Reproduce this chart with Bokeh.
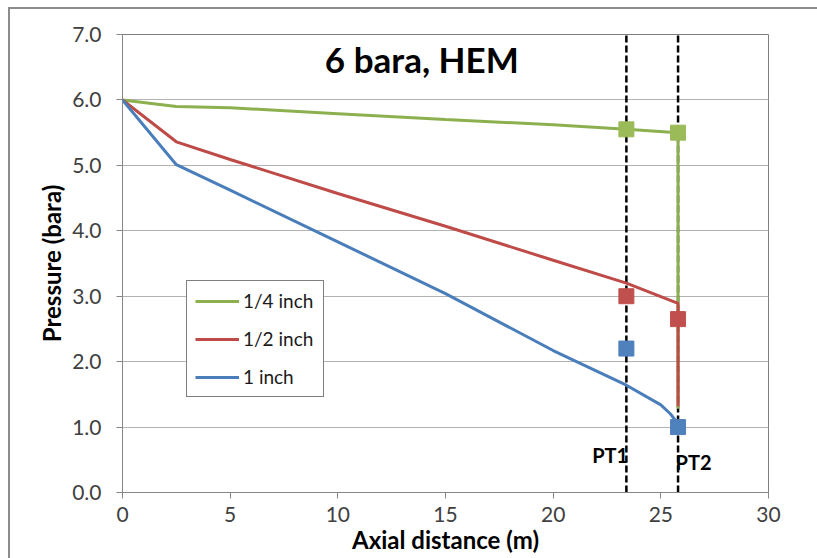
from bokeh.plotting import figure
from bokeh.models import (Label, Legend, LegendItem, NumeralTickFormatter,
                          FixedTicker, Range1d)
from bokeh.embed import file_html
from bokeh.resources import INLINE

# ---- data ----
x_quarter = [0, 2.5, 5, 10, 15, 20, 23.4, 25.8, 25.8]
p_quarter = [6.0, 5.90, 5.88, 5.79, 5.70, 5.62, 5.55, 5.50, 1.28]

x_half = [0, 2.5, 5, 10, 15, 20, 23.4, 25.8, 25.8]
p_half = [6.0, 5.36, 5.09, 4.57, 4.07, 3.55, 3.20, 2.89, 1.32]

x_one = [0, 2.5, 5, 10, 15, 20, 23.4, 25.0, 25.45, 25.8]
p_one = [6.0, 5.01, 4.62, 3.83, 3.04, 2.17, 1.64, 1.34, 1.20, 1.05]

pt_x = [23.4, 25.8]            # PT1, PT2 positions (m)
pt_labels = ["PT1", "PT2"]
meas_quarter = [5.55, 5.50]
meas_half = [3.00, 2.65]
meas_one = [2.20, 1.00]

series_names = ["1/4 inch", "1/2 inch", "1 inch"]
colors = ["#8DB04F", "#BE4B48", "#4A7EBB"]
marker_colors = ["#9BBB59", "#C0504D", "#4F81BD"]

x_ticks = [0, 5, 10, 15, 20, 25, 30]
y_ticks = [0, 1, 2, 3, 4, 5, 6, 7]
y_min, y_max = 0, 7

title_text = "6 bara, HEM"
x_label = "Axial distance (m)"
y_label = "Pressure (bara)"

FONT = "Lato"

p = figure(width=817, height=558, title=None,
           x_range=Range1d(0, 30), y_range=Range1d(y_min, y_max),
           output_backend="svg", toolbar_location=None,
           min_border_left=122, min_border_right=49,
           min_border_top=34, min_border_bottom=66)

p.border_fill_color = None
p.background_fill_color = "white"
p.styles = {
    "background": ("linear-gradient(#8c8c8c,#8c8c8c) 8px 7px / 2px 100% no-repeat, "
                   "linear-gradient(#8c8c8c,#8c8c8c) 8px 7px / 100% 2px no-repeat, white")
}
p.outline_line_color = "#7f7f7f"
p.outline_line_width = 1

# axes
for ax in (p.xaxis[0], p.yaxis[0]):
    ax.axis_line_color = "#868686"
    ax.major_tick_line_color = "#868686"
    ax.major_tick_out = 6
    ax.major_tick_in = 0
    ax.minor_tick_line_color = None
    ax.major_label_text_font = FONT
    ax.major_label_text_font_size = "21px"
    ax.major_label_text_color = "#404040"
    ax.axis_label_text_font = FONT
    ax.axis_label_text_font_size = "24px"
    ax.axis_label_text_font_style = "bold"
    ax.axis_label_text_color = "black"

p.xaxis.ticker = FixedTicker(ticks=x_ticks)
p.yaxis.ticker = FixedTicker(ticks=y_ticks)
p.yaxis.formatter = NumeralTickFormatter(format="0.0")
p.xaxis.axis_label = x_label
p.yaxis.axis_label = y_label
p.yaxis.major_label_standoff = 15
p.yaxis.axis_label_standoff = 3
p.xaxis.major_label_standoff = 8
p.xaxis.axis_label_standoff = 0

p.xgrid.visible = False
p.ygrid.grid_line_color = "#b3b3b3"
p.ygrid.grid_line_width = 1

# PT dashed lines (drawn first, beneath the series)
p.segment(x0=pt_x, y0=[y_min] * len(pt_x), x1=pt_x, y1=[y_max] * len(pt_x),
          line_color="black", line_width=2.5, line_dash="7 3")

# series lines
xs = [x_quarter, x_half, x_one]
ys = [p_quarter, p_half, p_one]
renderers = []
for xv, yv, c in zip(xs, ys, colors):
    r = p.line(xv, yv, line_color=c, line_width=3)
    renderers.append(r)

# measured points
for meas, c in zip([meas_quarter, meas_half, meas_one], marker_colors):
    p.scatter(pt_x, meas, marker="square", size=15, fill_color=c, line_color=c)

legend = Legend(items=[LegendItem(label=n, renderers=[r]) for n, r in zip(series_names, renderers)],
                location=(64, 95), margin=0, padding=8, spacing=15,
                glyph_width=44, glyph_height=20, label_height=20, label_standoff=4,
                label_width=72,
                label_text_font=FONT, label_text_font_size="19px",
                label_text_color="#1a1a1a",
                border_line_color="black", border_line_width=1,
                background_fill_color="white", background_fill_alpha=1)
p.add_layout(legend)

# title inside plot area
p.add_layout(Label(x=13.9, y=6.62, text=title_text, text_font=FONT,
                   text_font_size="35px", text_font_style="bold",
                   text_align="center", text_baseline="middle", text_color="black"))

# PT labels
pt_offsets = [(-0.75, 0.58), (0.72, 0.47)]
for xv, lab, (dx, yv) in zip(pt_x, pt_labels, pt_offsets):
    p.add_layout(Label(x=xv + dx, y=yv, text=lab, text_font=FONT,
                       text_font_size="20px", text_font_style="bold",
                       text_align="center", text_baseline="middle", text_color="black"))

open("out.html", "w").write(file_html(p, INLINE))
